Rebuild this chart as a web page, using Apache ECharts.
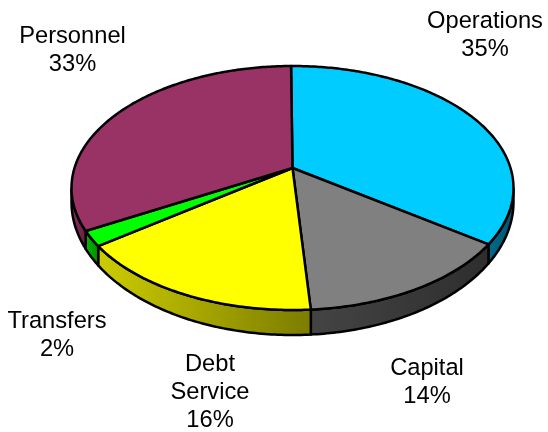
<!DOCTYPE html>
<html><head><meta charset="utf-8">
<style>html,body{margin:0;padding:0;background:#fff}#c{width:548px;height:432px}</style>
<script src="https://cdn.jsdelivr.net/npm/echarts@6/dist/echarts.min.js"></script>
</head><body><div id="c"></div>
<script>
// ---- data ----
var categories = ['Operations', 'Capital', 'Debt Service', 'Transfers', 'Personnel'];
var shareValues = [35, 14, 16, 2, 33];
var labelLines = [['Operations', '35%'], ['Capital', '14%'], ['Debt', 'Service', '16%'], ['Transfers', '2%'], ['Personnel', '33%']];
var labelAnchors = [[485, 35], [427, 382], [210, 392], [57, 335], [72.5, 50.5]];
var topColors = ['#00ccff', '#808080', '#ffff00', '#00ff00', '#993366'];
var wallColors = [
  ['#006a88', '#005570'], ['#444444', '#2e2e2e'], ['#cccc00', '#7c7c00'], ['#00b800', '#009000'], ['#8a2e5c', '#6a2040']
];

// ---- tilted-disc projection ----
var CX = 292.5, CY = 188, RY = 122, KP = 0.164, RX = 218, ROTATE = -0.12;
var LOWER_CY = 202, LOWER_RY = 133;
function rim(pct) {
  var t = (pct + ROTATE) / 100 * 2 * Math.PI, u = Math.sin(t), v = Math.cos(t), d = 1 + KP * v;
  return [CX + RX * u / d, CY - (RY * v + RY * KP) / d];
}
function lower(p) { return [p[0], LOWER_CY + (p[1] - CY) * LOWER_RY / RY]; }
var total = shareValues.reduce(function (a, b) { return a + b; }, 0);
function sliceStart(i) {
  var s = 0; for (var k = 0; k < i; k++) s += shareValues[k];
  return s / total * 100;
}
function arc(i, val) {
  var s = sliceStart(i), e = s + val / total * 100, pts = [];
  for (var p = s; p < e; p += 0.2) pts.push(rim(p));
  pts.push(rim(e));
  return pts;
}
var seriesData = categories.map(function (n, i) { return { name: n, value: shareValues[i] }; });

var option = {
  animation: false,
  backgroundColor: '#fff',
  tooltip: { show: false },
  series: [
    {
      type: 'custom', coordinateSystem: 'none', silent: true, z: 1, data: seriesData,
      renderItem: function (params, api) {
        var i = params.dataIndex;
        var pts = arc(i, api.value(0)).filter(function (p) { return p[1] >= CY; });
        if (pts.length < 2) return { type: 'group', children: [] };
        var poly = pts.concat(pts.slice().reverse().map(lower));
        var xs = pts.map(function (p) { return p[0]; });
        var x0 = Math.min.apply(null, xs), x1 = Math.max.apply(null, xs);
        return {
          type: 'polygon', shape: { points: poly },
          style: {
            fill: new echarts.graphic.LinearGradient(x0, 0, x1, 0, [
              { offset: 0, color: wallColors[i][0] }, { offset: 1, color: wallColors[i][1] }
            ], true),
            stroke: '#000', lineWidth: 2.5, lineJoin: 'round'
          }
        };
      }
    },
    {
      type: 'custom', coordinateSystem: 'none', silent: true, z: 2, data: seriesData,
      renderItem: function (params, api) {
        var i = params.dataIndex;
        var apex = [CX, CY - RY * KP];
        return {
          type: 'polygon', shape: { points: [apex].concat(arc(i, api.value(0))) },
          style: { fill: topColors[i], stroke: '#000', lineWidth: 2.5, lineJoin: 'round' }
        };
      }
    },
    {
      type: 'custom', coordinateSystem: 'none', silent: true, z: 3, data: seriesData,
      renderItem: function (params) {
        var i = params.dataIndex, a = labelAnchors[i];
        return {
          type: 'text', x: a[0], y: a[1],
          style: {
            text: labelLines[i].join('\n'), fill: '#000', align: 'center', verticalAlign: 'middle',
            font: '23.7px "Liberation Sans", Arial, sans-serif', lineHeight: 28
          }
        };
      }
    }
  ]
};
var chart = echarts.init(document.getElementById('c'));
chart.setOption(option);
</script></body></html>
